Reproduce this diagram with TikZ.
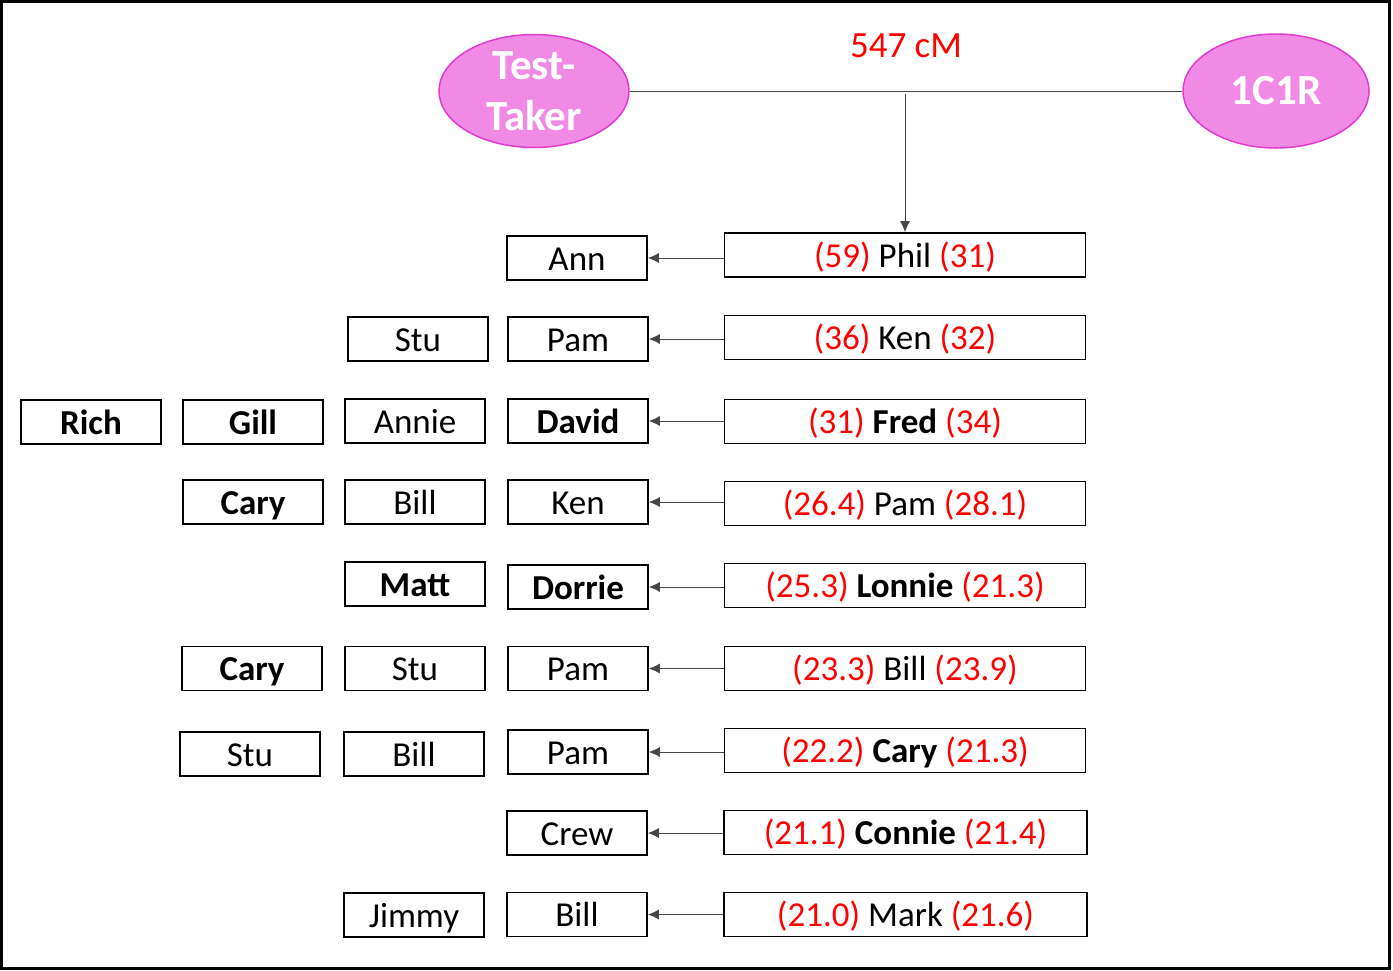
\documentclass[tikz,border=0pt]{standalone}
\usepackage{fontspec}
\setmainfont{Carlito}
\usetikzlibrary{arrows.meta,shapes.geometric}
\definecolor{pfill}{RGB}{240,138,228}
\definecolor{pline}{RGB}{225,60,205}
\definecolor{conn}{RGB}{70,70,70}
\tikzset{
  x=1pt,y=-1pt,
  person/.style={draw=black,line width=1.6pt,minimum width=140pt,minimum height=44pt,inner sep=0pt,
     text height=27pt,text depth=3pt,font=\fontsize{35}{42}\selectfont},
  match/.style={person,minimum width=361pt},
  oval/.style={ellipse,draw=pline,fill=pfill,line width=1.5pt,inner sep=0pt,text=white,
     font=\fontsize{43}{50}\selectfont\bfseries,align=center},
  conline/.style={draw=conn,line width=1pt},
  arr/.style={conline,-{Latex[length=11pt,width=10pt]}}
}
\newcommand{\rn}[1]{\textcolor{red}{#1}}
\begin{document}
\begin{tikzpicture}
\useasboundingbox (0,0) rectangle (1393,970);
\fill[white] (0,0) rectangle (1393,970);
\draw[line width=3pt] (1.5,1.5) rectangle (1389.5,968);
% top
\node[oval,minimum width=190pt,minimum height=113pt] (tt) at (534,91) {Test-\\[1pt]Taker};
\node[oval,minimum width=186pt,minimum height=114pt] (oc) at (1276,91) {1C1R};
\node[text=red,font=\fontsize{37}{44}\selectfont] (cm) at (906,46) {547 cM};
\draw[conline] (tt.east) -- (tt.east -| oc.west);
\coordinate (mid) at (905,94);
% row 1
\node[match] (m1) at (905,255) {\rn{(59)} Phil \rn{(31)}};
\node[person] (a1) at (577,258) {Ann};
% row 2
\node[match] (m2) at (905,337.5) {\rn{(36)} Ken \rn{(32)}};
\node[person] (a2) at (578,339) {Pam};
\node[person] (b2) at (418,339) {Stu};
% row 3
\node[match] (m3) at (905,421.5) {\rn{(31)} \textbf{Fred} \rn{(34)}};
\node[person] (a3) at (578,421) {\textbf{David}};
\node[person] (b3) at (415,421) {Annie};
\node[person] (c3) at (253,422) {\textbf{Gill}};
\node[person] (d3) at (91,422) {\textbf{Rich}};
% row 4
\node[match] (m4) at (905,503.5) {\rn{(26.4)} Pam \rn{(28.1)}};
\node[person] (a4) at (578,502) {Ken};
\node[person] (b4) at (415,502) {Bill};
\node[person] (c4) at (253,502) {\textbf{Cary}};
% row 5
\node[match] (m5) at (905,585.5) {\rn{(25.3)} \textbf{Lonnie} \rn{(21.3)}};
\node[person] (a5) at (578,587) {\textbf{Dorrie}};
\node[person] (b5) at (415,584) {\textbf{Matt}};
% row 6
\node[match] (m6) at (905,668.5) {\rn{(23.3)} Bill \rn{(23.9)}};
\node[person] (a6) at (578,668.5) {Pam};
\node[person] (b6) at (415,668.5) {Stu};
\node[person] (c6) at (252,668.5) {\textbf{Cary}};
% row 7
\node[match] (m7) at (905,750.5) {\rn{(22.2)} \textbf{Cary} \rn{(21.3)}};
\node[person] (a7) at (578,752) {Pam};
\node[person] (b7) at (414,754) {Bill};
\node[person] (c7) at (250,754) {Stu};
% row 8
\node[match,minimum width=363pt] (m8) at (905.5,832.5) {\rn{(21.1)} \textbf{Connie} \rn{(21.4)}};
\node[person] (a8) at (577,833) {Crew};
% row 9
\node[match,minimum width=363pt] (m9) at (905.5,914.5) {\rn{(21.0)} Mark \rn{(21.6)}};
\node[person] (a9) at (577,914.5) {Bill};
\node[person] (b9) at (414,915) {Jimmy};
% connectors
\draw[arr] (mid) -- (m1.north);
\foreach \i in {1,...,9}{\draw[arr] (a\i.east -| m\i.west) -- (a\i.east);}
\end{tikzpicture}
\end{document}
